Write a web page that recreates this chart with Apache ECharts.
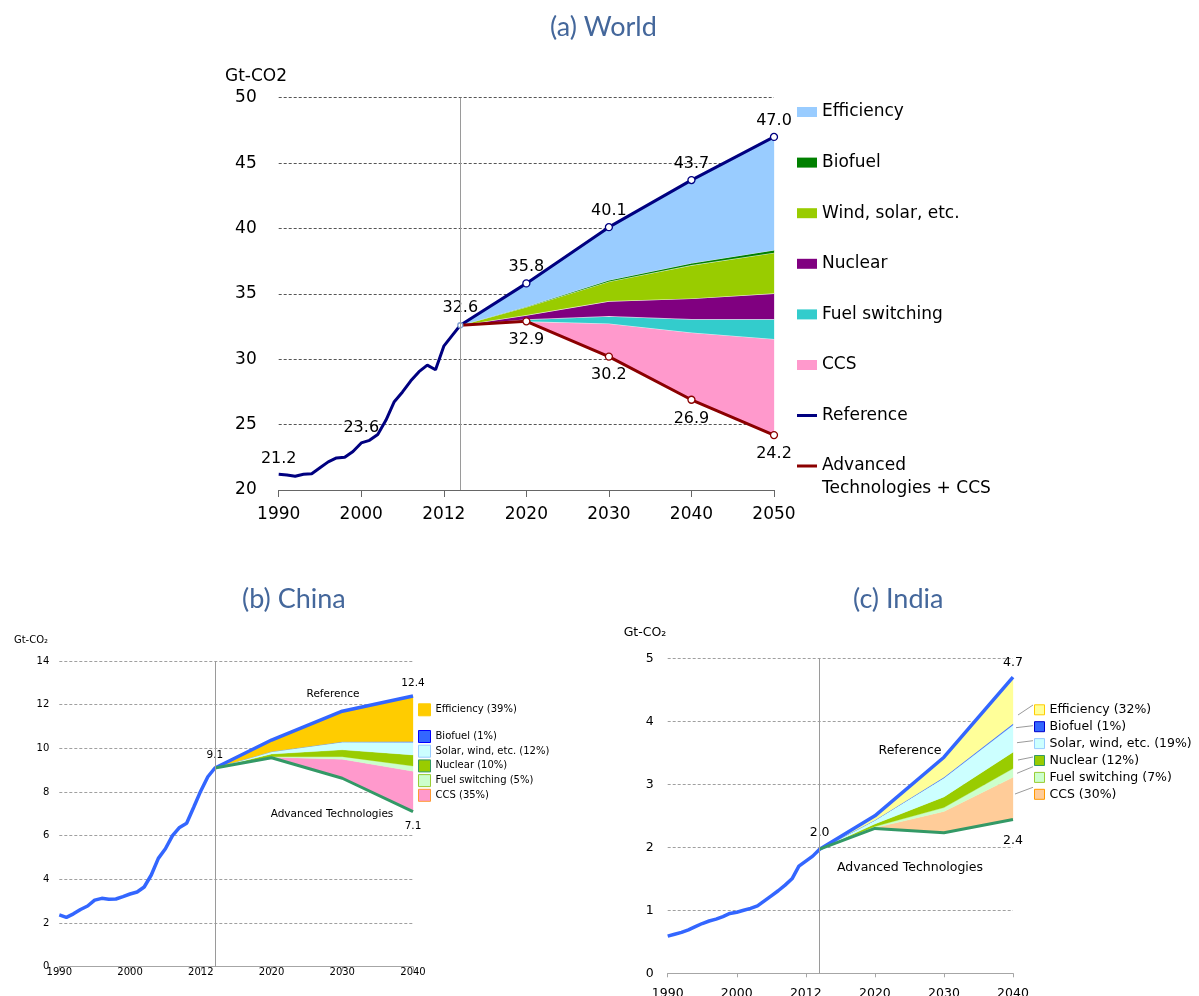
<!DOCTYPE html>
<html style="height: 100%">

<head>
	<meta charset="utf-8">
</head>

<body style="height: 100%; margin: 0">
	<div id="container" style="width: 1199px; height: 996px;"></div>

	<script type="text/javascript" src="https://cdn.jsdelivr.net/npm/echarts@6/dist/echarts.min.js"></script>
	<script type="text/javascript">
		// tick labels of the year axes (the source figure labels the 2010 tick "2012")
		let xTickLabels = ['1990', '2000', '2012', '2020', '2030', '2040', '2050'];
		let histYears = [1990, 1991, 1992, 1993, 1994, 1995, 1996, 1997, 1998, 1999, 2000, 2001,
			2002, 2003, 2004, 2005, 2006, 2007, 2008, 2009, 2010, 2011, 2012];

		// (a) World, Gt-CO2
		let worldHist = [21.2, 21.15, 21.05, 21.2, 21.25, 21.7, 22.15, 22.45, 22.5, 22.95, 23.6, 23.8,
			24.25, 25.35, 26.75, 27.5, 28.35, 29.05, 29.55, 29.2, 31.0, 31.8, 32.6];
		let worldYears = [2012, 2020, 2030, 2040, 2050];
		let worldRef = [32.6, 35.8, 40.1, 43.7, 47.0];
		let worldAdv = [32.6, 32.9, 30.2, 26.9, 24.2];
		let worldCCS = [0, 0, 2.54, 5.15, 7.35];
		let worldFuelSwitch = [0, 0.15, 0.56, 1.02, 1.52];
		let worldNuclear = [0, 0.33, 1.15, 1.58, 1.97];
		let worldWind = [0, 0.62, 1.5, 2.55, 3.11];
		let worldBiofuel = [0, 0.03, 0.1, 0.15, 0.2];
		let worldEfficiency = [0, 1.77, 4.04, 6.32, 8.65];
		let worldRefLabelYears = [1990, 2000, 2012, 2020, 2030, 2040, 2050];
		let worldAdvLabelYears = [2020, 2030, 2040, 2050];

		// (b) China
		let chinaHist = [2.37, 2.26, 2.42, 2.62, 2.78, 3.05, 3.13, 3.09, 3.1, 3.21, 3.33, 3.42,
			3.65, 4.2, 4.96, 5.4, 6.0, 6.38, 6.57, 7.3, 8.05, 8.7, 9.1];
		let chinaYears = [2012, 2020, 2030, 2040];
		let chinaRef = [9.1, 10.38, 11.7, 12.4];
		let chinaAdv = [9.1, 9.57, 8.63, 7.1];
		let chinaCCS = [0, 0.02, 0.87, 1.85];
		let chinaFuelSwitch = [0, 0.03, 0.12, 0.24];
		let chinaNuclear = [0, 0.12, 0.31, 0.51];
		let chinaSolar = [0, 0.11, 0.36, 0.58];
		let chinaBiofuel = [0, 0, 0.01, 0.03];
		let chinaEfficiency = [0, 0.53, 1.4, 2.09];

		// (c) India
		let indiaHist = [0.59, 0.62, 0.65, 0.69, 0.74, 0.79, 0.83, 0.86, 0.9, 0.95, 0.97, 1.0,
			1.03, 1.07, 1.15, 1.23, 1.31, 1.4, 1.5, 1.7, 1.78, 1.86, 1.97];
		let indiaYears = [2012, 2020, 2030, 2040];
		let indiaRef = [1.97, 2.5, 3.43, 4.7];
		let indiaAdv = [1.97, 2.3, 2.23, 2.44];
		let indiaCCS = [0, 0.01, 0.34, 0.67];
		let indiaFuelSwitch = [0, 0.02, 0.06, 0.14];
		let indiaNuclear = [0, 0.04, 0.17, 0.26];
		let indiaSolar = [0, 0.06, 0.3, 0.43];
		let indiaBiofuel = [0, 0, 0.01, 0.02];
		let indiaEfficiency = [0, 0.07, 0.32, 0.74];

		let font = 'DejaVu Sans';
		let titleColor = '#44679b';
		let lineIcon = 'path://M0,0 h0.01 v0.01 z M0,3.5 H20 V6.5 H0 Z M19.99,9.99 h0.01 v0.01 z';

		let dom = document.getElementById("container");
		let myChart = echarts.init(dom);
		let option = null;

		function pairs(xs, ys) {
			return xs.map(function (x, i) { return [x, ys[i]]; });
		}

		// historic + projected reference as one line
		function fullLine(hist, years, ref) {
			return pairs(histYears, hist).concat(pairs(years.slice(1), ref.slice(1)));
		}

		function valueAt(line, year) {
			for (let i = 0; i < line.length; i++) {
				if (line[i][0] === year) return line[i][1];
			}
			return null;
		}

		function xAxisFor(idx, max, size, margin, tickLen, color) {
			return {
				type: 'value', gridIndex: idx, min: 1990, max: max, interval: 10,
				axisLine: { show: true, lineStyle: { color: color, width: 1 } },
				axisTick: { show: true, length: tickLen, lineStyle: { color: color, width: 1 } },
				splitLine: { show: false },
				axisLabel: {
					fontSize: size, fontFamily: font, color: '#000', margin: margin,
					formatter: function (v) { return xTickLabels[Math.round((v - 1990) / 10)]; }
				}
			};
		}

		function yAxisFor(idx, min, max, interval, size, margin, gridColor) {
			return {
				type: 'value', gridIndex: idx, min: min, max: max, interval: interval,
				axisLine: { show: false }, axisTick: { show: false },
				splitLine: { show: true, lineStyle: { color: gridColor, width: 1, type: [3, 2] } },
				axisLabel: { fontSize: size, fontFamily: font, color: '#000', margin: margin }
			};
		}

		// one wedge between two boundaries, drawn through the axes with api.coord
		function bandSeries(name, idx, years, lower, upper, color, stroke, strokeWidth) {
			return {
				name: name, type: 'custom', xAxisIndex: idx, yAxisIndex: idx, silent: true, z: 2,
				itemStyle: { color: color },
				data: years.map(function (y, i) { return [y, lower[i], upper[i]]; }),
				encode: { x: 0, y: [1, 2] },
				renderItem: function (params, api) {
					if (params.dataIndex !== 0) return null;
					let top = [], bottom = [];
					for (let i = 0; i < years.length; i++) {
						top.push(api.coord([years[i], upper[i]]));
						bottom.push(api.coord([years[i], lower[i]]));
					}
					let children = [{
						type: 'polygon', shape: { points: top.concat(bottom.reverse()) },
						style: { fill: color, stroke: color, lineWidth: 0.3 }
					}];
					if (strokeWidth > 0) {
						children.push({
							type: 'polyline', shape: { points: top },
							style: { fill: 'none', stroke: stroke, lineWidth: strokeWidth }
						});
					}
					return { type: 'group', children: children };
				}
			};
		}

		// stacks the measures on top of the advanced-technology line
		function bands(idx, years, base, layers, sepColor, sepWidth) {
			let lower = base.slice();
			let out = [];
			layers.forEach(function (l) {
				let upper = lower.map(function (v, i) { return v + l.values[i]; });
				out.push(bandSeries(l.name, idx, years, lower, upper, l.color, l.line || sepColor,
					l.width !== undefined ? l.width : sepWidth));
				lower = upper;
			});
			return out;
		}

		// invisible carrier of the vertical 2012 line
		function dividerSeries(name, idx, years, values) {
			return {
				name: name, type: 'line', xAxisIndex: idx, yAxisIndex: idx,
				data: pairs(years, values), symbol: 'none', silent: true, z: 1,
				lineStyle: { width: 0, opacity: 0 },
				markLine: {
					silent: true, symbol: ['none', 'none'], label: { show: false },
					lineStyle: { color: '#9a9a9a', width: 1, type: 'solid' },
					data: [{ xAxis: 2012 }]
				}
			};
		}

		function lineSeries(name, idx, data, color, width) {
			return {
				name: name, type: 'line', xAxisIndex: idx, yAxisIndex: idx, data: data,
				symbol: 'none', silent: true, z: 3,
				itemStyle: { color: color }, lineStyle: { color: color, width: width }
			};
		}

		function labelSeries(name, idx, items, size, border) {
			return {
				name: name, type: 'scatter', xAxisIndex: idx, yAxisIndex: idx, silent: true, z: 4,
				data: items, symbol: 'circle',
				itemStyle: { color: '#ffffff', borderColor: border || '#000', borderWidth: 1.3, opacity: 1 },
				label: {
					show: true, fontSize: size, fontFamily: font, color: '#000',
					formatter: function (p) { return p.value[1].toFixed(1); }
				}
			};
		}

		function item(x, y, symbolSize, position, distance, border) {
			let it = { value: [x, y], symbolSize: symbolSize, label: { position: position, distance: distance } };
			if (border) it.itemStyle = { borderColor: border };
			return it;
		}

		function setOption() {
			let worldLine = fullLine(worldHist, worldYears, worldRef);
			let chinaLine = fullLine(chinaHist, chinaYears, chinaRef);
			let indiaLine = fullLine(indiaHist, indiaYears, indiaRef);

			let worldRefItems = worldRefLabelYears.map(function (y) {
				let v = valueAt(worldLine, y);
				if (y < 2012) return item(y, v, 0, 'top', 7.5);
				if (y === 2012) return item(y, v, 5, 'top', 6.5, '#7f9fcf');
				return item(y, v, 7, 'top', 4);
			});
			let worldAdvItems = worldAdvLabelYears.map(function (y) {
				return item(y, worldAdv[worldYears.indexOf(y)], 7, 'bottom', 6.5);
			});

			let series = [].concat(
				[dividerSeries('world divider', 0, worldYears, worldAdv)],
				bands(0, worldYears, worldAdv, [
					{ name: 'CCS', values: worldCCS, color: '#ff99cc' },
					{ name: 'Fuel switching', values: worldFuelSwitch, color: '#33cccc' },
					{ name: 'Nuclear', values: worldNuclear, color: '#800080' },
					{ name: 'Wind, solar, etc.', values: worldWind, color: '#99cc00' },
					{ name: 'Biofuel', values: worldBiofuel, color: '#008000', width: 0.8 },
					{ name: 'Efficiency', values: worldEfficiency, color: '#99ccff' }
				], '#ffffff', 1.2),
				[
					lineSeries('Reference', 0, worldLine, '#000080', 3),
					lineSeries('Advanced Technologies + CCS', 0, pairs(worldYears, worldAdv), '#8b0000', 3),
					labelSeries('world ref points', 0, worldRefItems, 16, '#000080'),
					labelSeries('world adv points', 0, worldAdvItems, 16, '#8b0000')
				],
				[dividerSeries('china divider', 1, chinaYears, chinaAdv)],
				bands(1, chinaYears, chinaAdv, [
					{ name: 'CCS (35%)', values: chinaCCS, color: '#ff99cc' },
					{ name: 'Fuel switching (5%)', values: chinaFuelSwitch, color: '#ccffcc' },
					{ name: 'Nuclear (10%)', values: chinaNuclear, color: '#99cc00' },
					{ name: 'Solar, wind, etc. (12%)', values: chinaSolar, color: '#ccffff' },
					{ name: 'Biofuel (1%)', values: chinaBiofuel, color: '#3366ff' },
					{ name: 'Efficiency (39%)', values: chinaEfficiency, color: '#ffcc00' }
				], '#ffffff', 0),
				[
					lineSeries('China reference', 1, chinaLine, '#3366ff', 3.5),
					lineSeries('China advanced', 1, pairs(chinaYears, chinaAdv), '#339966', 3),
					labelSeries('china labels', 1, [
						item(2012, valueAt(chinaLine, 2012), 0, 'top', 7.5),
						item(2040, valueAt(chinaLine, 2040), 0, 'top', 7),
						item(2040, chinaAdv[chinaAdv.length - 1], 0, 'bottom', 9.5)
					], 10.5)
				],
				[dividerSeries('india divider', 2, indiaYears, indiaAdv)],
				bands(2, indiaYears, indiaAdv, [
					{ name: 'CCS (30%)', values: indiaCCS, color: '#ffcc99' },
					{ name: 'Fuel switching (7%)', values: indiaFuelSwitch, color: '#ccffcc' },
					{ name: 'Nuclear (12%)', values: indiaNuclear, color: '#99cc00' },
					{ name: 'Solar, wind, etc. (19%)', values: indiaSolar, color: '#ccffff' },
					{ name: 'Biofuel (1%)', values: indiaBiofuel, color: '#3366ff', line: '#3366ff', width: 0.7 },
					{ name: 'Efficiency (32%)', values: indiaEfficiency, color: '#ffff99' }
				], '#ffffff', 0),
				[
					lineSeries('India reference', 2, indiaLine, '#3366ff', 3.5),
					lineSeries('India advanced', 2, pairs(indiaYears, indiaAdv), '#339966', 3),
					labelSeries('india labels', 2, [
						item(2012, valueAt(indiaLine, 2012), 0, 'top', 9.5),
						item(2040, valueAt(indiaLine, 2040), 0, 'top', 8),
						item(2040, indiaAdv[indiaAdv.length - 1], 0, 'bottom', 14.5)
					], 12.5)
				]
			);

			let titleStyle = { fontSize: 27, fontWeight: 'normal', fontFamily: 'Lato', color: titleColor };
			let legendBase = { orient: 'vertical', padding: 0, selectedMode: false };

			function sq(name, color, border) {
				return { name: name, icon: 'rect', itemStyle: { color: color, borderColor: border, borderWidth: 1 } };
			}

			option = {
				animation: false,
				backgroundColor: '#ffffff',
				title: [
					{ text: '(a) World', left: 550, top: 14, padding: 0, textStyle: titleStyle },
					{ text: '(b) China', left: 242, top: 586, padding: 0, textStyle: titleStyle },
					{ text: '(c) India', left: 853, top: 586, padding: 0, textStyle: titleStyle }
				],
				grid: [
					{ left: 278.7, top: 97.7, width: 495.3, height: 392.3, outerBoundsMode: 'none' },
					{ left: 59.3, top: 661, width: 353.7, height: 305.7, outerBoundsMode: 'none' },
					{ left: 667.7, top: 658.3, width: 345.3, height: 315, outerBoundsMode: 'none' }
				],
				xAxis: [
					xAxisFor(0, 2050, 17, 16, 7, '#666666'),
					xAxisFor(1, 2040, 10, 1, 4, '#a6a6a6'),
					xAxisFor(2, 2040, 12.5, 14, 4, '#a6a6a6')
				],
				yAxis: [
					yAxisFor(0, 20, 50, 5, 17, 22, '#555555'),
					yAxisFor(1, 0, 14, 2, 10, 10, '#a0a0a0'),
					yAxisFor(2, 0, 5, 1, 12.5, 14, '#a0a0a0')
				],
				legend: [
					Object.assign({}, legendBase, {
						left: 797, top: 103.5, itemGap: 33.6, itemWidth: 20, itemHeight: 10,
						textStyle: { fontSize: 17, fontFamily: font, color: '#000' },
						data: [
							{ name: 'Efficiency', icon: 'rect', itemStyle: { color: '#99ccff', borderWidth: 0 } },
							{ name: 'Biofuel', icon: 'rect', itemStyle: { color: '#008000', borderWidth: 0 } },
							{ name: 'Wind, solar, etc.', icon: 'rect', itemStyle: { color: '#99cc00', borderWidth: 0 } },
							{ name: 'Nuclear', icon: 'rect', itemStyle: { color: '#800080', borderWidth: 0 } },
							{ name: 'Fuel switching', icon: 'rect', itemStyle: { color: '#33cccc', borderWidth: 0 } },
							{ name: 'CCS', icon: 'rect', itemStyle: { color: '#ff99cc', borderWidth: 0 } },
							{ name: 'Reference', icon: lineIcon, itemStyle: { color: '#000080', borderWidth: 0 } }
						]
					}),
					Object.assign({}, legendBase, {
						left: 797, top: 457.5, itemWidth: 20, itemHeight: 10,
						textStyle: { fontSize: 17, fontFamily: font, color: '#000' },
						formatter: function () { return 'Advanced'; },
						data: [{ name: 'Advanced Technologies + CCS', icon: lineIcon, itemStyle: { color: '#8b0000', borderWidth: 0 } }]
					}),
					Object.assign({}, legendBase, {
						left: 418, top: 703.3, itemWidth: 12, itemHeight: 12,
						textStyle: { fontSize: 10, fontFamily: font, color: '#000' },
						data: [sq('Efficiency (39%)', '#ffcc00', '#ffcc00')]
					}),
					Object.assign({}, legendBase, {
						left: 418, top: 730, itemGap: 1.7, itemWidth: 12, itemHeight: 12,
						textStyle: { fontSize: 10, fontFamily: font, color: '#000' },
						data: [
							sq('Biofuel (1%)', '#3366ff', '#0000ff'),
							sq('Solar, wind, etc. (12%)', '#ccffff', '#99ccff'),
							sq('Nuclear (10%)', '#99cc00', '#339966'),
							sq('Fuel switching (5%)', '#ccffcc', '#99cc33'),
							sq('CCS (35%)', '#ff99cc', '#ff9933')
						]
					}),
					Object.assign({}, legendBase, {
						left: 1034, top: 703.3, itemGap: 3.9, itemWidth: 10, itemHeight: 10,
						textStyle: { fontSize: 12.5, fontFamily: font, color: '#000' },
						data: [
							sq('Efficiency (32%)', '#ffff99', '#ffcc00'),
							sq('Biofuel (1%)', '#3366ff', '#0000cc'),
							sq('Solar, wind, etc. (19%)', '#ccffff', '#99ccff'),
							sq('Nuclear (12%)', '#99cc00', '#339966'),
							sq('Fuel switching (7%)', '#ccffcc', '#99cc33'),
							sq('CCS (30%)', '#ffcc99', '#ff9900')
						]
					})
				],
				graphic: [
					{ type: 'text', silent: true, style: { x: 256, y: 77, text: 'Gt-CO2', font: '17px ' + font, fill: '#000', align: 'center', verticalAlign: 'middle' } },
					{ type: 'text', silent: true, style: { x: 822, y: 489, text: 'Technologies + CCS', font: '17px ' + font, fill: '#000', align: 'left', verticalAlign: 'middle' } },
					{ type: 'text', silent: true, style: { x: 31, y: 640, text: 'Gt-CO₂', font: '10px ' + font, fill: '#000', align: 'center', verticalAlign: 'middle' } },
					{ type: 'text', silent: true, style: { x: 333, y: 694, text: 'Reference', font: '10.5px ' + font, fill: '#000', align: 'center', verticalAlign: 'middle' } },
					{ type: 'text', silent: true, style: { x: 332, y: 814, text: 'Advanced Technologies', font: '10.5px ' + font, fill: '#000', align: 'center', verticalAlign: 'middle' } },
					{ type: 'text', silent: true, style: { x: 645, y: 633, text: 'Gt-CO₂', font: '12.5px ' + font, fill: '#000', align: 'center', verticalAlign: 'middle' } },
					{ type: 'text', silent: true, style: { x: 910, y: 751, text: 'Reference', font: '12.5px ' + font, fill: '#000', align: 'center', verticalAlign: 'middle' } },
					{ type: 'text', silent: true, style: { x: 910, y: 868, text: 'Advanced Technologies', font: '12.5px ' + font, fill: '#000', align: 'center', verticalAlign: 'middle' } },
					// leader lines of the India legend
					{ type: 'line', silent: true, shape: { x1: 1018, y1: 715, x2: 1033, y2: 705 }, style: { stroke: '#808080', lineWidth: 0.8 } },
					{ type: 'line', silent: true, shape: { x1: 1016, y1: 727.7, x2: 1033, y2: 725.7 }, style: { stroke: '#808080', lineWidth: 0.8 } },
					{ type: 'line', silent: true, shape: { x1: 1017, y1: 742.7, x2: 1033, y2: 740.7 }, style: { stroke: '#808080', lineWidth: 0.8 } },
					{ type: 'line', silent: true, shape: { x1: 1018, y1: 760, x2: 1033, y2: 757 }, style: { stroke: '#808080', lineWidth: 0.8 } },
					{ type: 'line', silent: true, shape: { x1: 1017, y1: 773.3, x2: 1033, y2: 766.7 }, style: { stroke: '#808080', lineWidth: 0.8 } },
					{ type: 'line', silent: true, shape: { x1: 1015, y1: 794, x2: 1033, y2: 787.3 }, style: { stroke: '#808080', lineWidth: 0.8 } }
				],
				series: series
			};
		}

		setOption();

		if (option && typeof option === "object") {
			myChart.setOption(option, true);
		}
	</script>
</body>

</html>
